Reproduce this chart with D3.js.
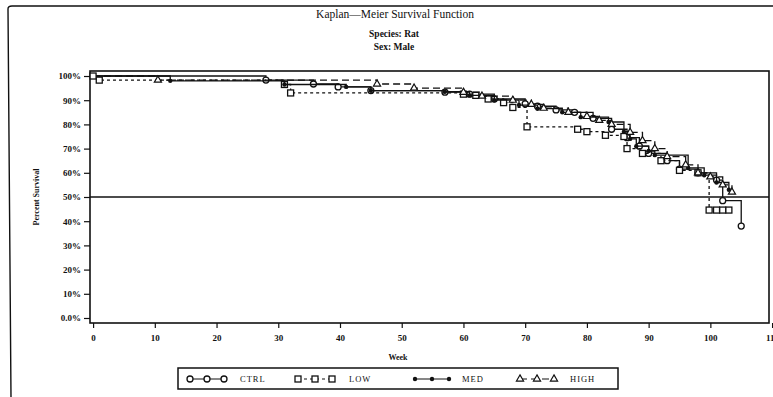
<!DOCTYPE html>
<html>
<head>
<meta charset="utf-8">
<script src="https://cdn.jsdelivr.net/npm/d3@7"></script>
<style>
  body { margin: 0; background: #fff; }
  svg text { font-family: "Liberation Serif", "DejaVu Serif", serif; fill: #111; }
</style>
</head>
<body>
<svg id="chart" width="773" height="397"></svg>
<script>
// Kaplan-Meier step data: [week, percent surviving after the event]
const ctrlData = [[0,100],[28,98.3],[35.7,96.7],[39.7,95.5],[45,94],[57,93.3],[61,92.5],[65,90.5],[70,88.5],[72,87.5],[75,86],[78,85],[81,82.5],[84,78],[86.5,74.5],[88.5,71],[90,68],[93,65],[95,61.5],[98,60],[101,57],[102,48.5],[105,38]];
const lowData = [[0,100],[1,98.3],[31,96.5],[32,93],[60,92.5],[62,92],[64,90.5],[66.5,89],[68,87],[70.3,79],[78.5,78],[80,77],[83,75.5],[86,75],[86.5,70],[89,68],[92,65],[95,61],[98,60],[99.8,44.6],[101,44.6],[102,44.6],[103,44.6]];
const medData = [[0,100],[12.5,98],[31,96.5],[41,95.5],[45,94],[57,93.5],[61,92],[65,90],[69,88],[72,86.5],[76,85],[79,83],[83.5,81],[86,77],[87,74],[88,71],[90,69],[91,67.3],[96.4,62],[99,59],[101,56],[103,53]];
const highData = [[0,100],[10.5,98.3],[46,96.7],[52,95],[60,93.3],[63,91.7],[68,90],[71,88.3],[73,86.7],[77,85],[80,83.3],[82,81.7],[84,80],[87,76.7],[89,73.3],[91,70],[93,66.7],[96,63.3],[98,60],[100,58.3],[102,55],[103.5,52]];

const groupNames = ["CTRL", "LOW", "MED", "HIGH"];
const xTicks = [0, 10, 20, 30, 40, 50, 60, 70, 80, 90, 100, 110];
const yTicks = [0, 10, 20, 30, 40, 50, 60, 70, 80, 90, 100];

const groups = [
  { name: "CTRL", data: ctrlData, dash: null, sym: "circle" },
  { name: "LOW", data: lowData, dash: "3,3", sym: "square" },
  { name: "MED", data: medData, dash: null, sym: "dot" },
  { name: "HIGH", data: highData, dash: "7,4", sym: "triangle" }
];

const svg = d3.select("#chart");

// outer page frame from the scanned report
svg.append("path")
  .attr("d", "M11,397 L8,9 Q8,6 12,6 L773,6")
  .attr("fill", "none").attr("stroke", "#111").attr("stroke-width", 1.4);

// titles
svg.append("text").attr("x", 395).attr("y", 18).attr("text-anchor", "middle")
  .attr("font-size", "11.5px").text("Kaplan\u2014Meier Survival Function");
svg.append("text").attr("x", 394).attr("y", 37).attr("text-anchor", "middle")
  .attr("font-size", "9.5px").attr("font-weight", "bold").text("Species: Rat");
svg.append("text").attr("x", 394).attr("y", 50).attr("text-anchor", "middle")
  .attr("font-size", "9.5px").attr("font-weight", "bold").text("Sex: Male");

const plotL = 90, plotR = 769, plotT = 71, plotB = 323;

const x = d3.scaleLinear().domain([-0.5, 109.5]).range([plotL, plotR]);
const y = d3.scaleLinear().domain([-2.07, 102.07]).range([plotB, plotT]);

// plot frame
svg.append("rect").attr("x", plotL).attr("y", plotT)
  .attr("width", plotR - plotL).attr("height", plotB - plotT)
  .attr("fill", "none").attr("stroke", "#111").attr("stroke-width", 1.6);

// axes
const xAxis = svg.append("g").attr("transform", `translate(0,${plotB})`)
  .call(d3.axisBottom(x).tickValues(xTicks).tickSize(5).tickPadding(7).tickFormat(d3.format("d")));
const yAxis = svg.append("g").attr("transform", `translate(${plotL},0)`)
  .call(d3.axisLeft(y).tickValues(yTicks).tickSize(6).tickPadding(3)
    .tickFormat(d => d === 0 ? "0.0%" : d + "%"));
[xAxis, yAxis].forEach(a => {
  a.select(".domain").remove();
  a.selectAll("line").attr("stroke", "#111").attr("stroke-width", 1.2);
  a.selectAll("text").attr("font-size", "9px").attr("font-weight", "bold")
    .attr("fill", "#111").style("font-family", "'Liberation Serif', serif");
});

svg.append("text").attr("x", 398).attr("y", 360).attr("text-anchor", "middle")
  .attr("font-size", "8px").attr("font-weight", "bold").text("Week");
svg.append("text").attr("transform", "translate(39,197) rotate(-90)")
  .attr("text-anchor", "middle").attr("font-size", "8px").attr("font-weight", "bold")
  .text("Percent Survival");

// 50% reference line
svg.append("line").attr("x1", plotL).attr("x2", plotR)
  .attr("y1", y(50)).attr("y2", y(50))
  .attr("stroke", "#111").attr("stroke-width", 1.3);

const line = d3.line().curve(d3.curveStepAfter)
  .x(d => x(d[0])).y(d => y(d[1]));

function drawSymbol(g, kind, cx, cy) {
  if (kind === "circle") {
    g.append("circle").attr("cx", cx).attr("cy", cy).attr("r", 3)
      .attr("fill", "#fff").attr("stroke", "#111").attr("stroke-width", 1.3);
  } else if (kind === "square") {
    g.append("rect").attr("x", cx - 3).attr("y", cy - 3).attr("width", 6).attr("height", 6)
      .attr("fill", "#fff").attr("stroke", "#111").attr("stroke-width", 1.3);
  } else if (kind === "dot") {
    g.append("circle").attr("cx", cx).attr("cy", cy).attr("r", 2.2)
      .attr("fill", "#111");
  } else {
    g.append("path").attr("d", d3.symbol().type(d3.symbolTriangle).size(22)())
      .attr("transform", `translate(${cx},${cy})`)
      .attr("fill", "#fff").attr("stroke", "#111").attr("stroke-width", 1.2);
  }
}

groups.forEach(gr => {
  const g = svg.append("g");
  g.append("path").datum(gr.data).attr("d", line)
    .attr("fill", "none").attr("stroke", "#111").attr("stroke-width", 1.3)
    .attr("stroke-dasharray", gr.dash);
  gr.data.slice(1).forEach(d => drawSymbol(g, gr.sym, x(d[0]), y(d[1])));
});
// the first symbol at week 0
drawSymbol(svg.append("g"), "square", x(0), y(100));

// legend
const legend = svg.append("g");
legend.append("rect").attr("x", 178).attr("y", 368).attr("width", 440).attr("height", 21)
  .attr("fill", "#fff").attr("stroke", "#111").attr("stroke-width", 1.5);
const legX = [190, 298, 415, 520];
const textX = [240, 349, 462, 570];
groups.forEach((gr, i) => {
  const lg = legend.append("g");
  lg.append("line").attr("x1", legX[i]).attr("x2", legX[i] + 34)
    .attr("y1", 379).attr("y2", 379)
    .attr("stroke", "#111").attr("stroke-width", 1.2).attr("stroke-dasharray", gr.dash);
  [0, 17, 34].forEach(o => drawSymbol(lg, gr.sym, legX[i] + o, 379));
  lg.append("text").attr("x", textX[i]).attr("y", 382)
    .attr("font-size", "8.5px").attr("letter-spacing", "1px").text(groupNames[i]);
});
</script>
</body>
</html>
